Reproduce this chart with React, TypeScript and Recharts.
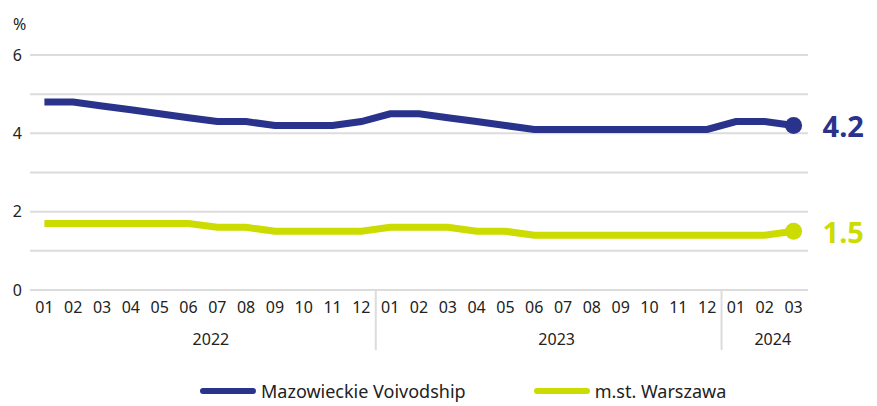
import React from 'react';
import { LineChart, Line, XAxis, YAxis, CartesianGrid } from 'recharts';

const periods = [
  '2022-01', '2022-02', '2022-03', '2022-04', '2022-05', '2022-06',
  '2022-07', '2022-08', '2022-09', '2022-10', '2022-11', '2022-12',
  '2023-01', '2023-02', '2023-03', '2023-04', '2023-05', '2023-06',
  '2023-07', '2023-08', '2023-09', '2023-10', '2023-11', '2023-12',
  '2024-01', '2024-02', '2024-03',
];

const mazowieckie = [
  4.8, 4.8, 4.7, 4.6, 4.5, 4.4, 4.3, 4.3, 4.2, 4.2, 4.2, 4.3,
  4.5, 4.5, 4.4, 4.3, 4.2, 4.1, 4.1, 4.1, 4.1, 4.1, 4.1, 4.1,
  4.3, 4.3, 4.2,
];

const warszawa = [
  1.7, 1.7, 1.7, 1.7, 1.7, 1.7, 1.6, 1.6, 1.5, 1.5, 1.5, 1.5,
  1.6, 1.6, 1.6, 1.5, 1.5, 1.4, 1.4, 1.4, 1.4, 1.4, 1.4, 1.4,
  1.4, 1.4, 1.5,
];

const yTicks = [0, 1, 2, 3, 4, 5, 6];

const series = [
  { key: 'maz', name: 'Mazowieckie Voivodship', color: '#29338c' },
  { key: 'waw', name: 'm.st. Warszawa', color: '#cddc00' },
];

const data = periods.map((p, i) => ({ period: p, maz: mazowieckie[i], waw: warszawa[i] }));
const last = periods.length - 1;
const TEXT = '#222222';
const GRID = '#dcdcdc';

// month label + year label + year separator
const MonthTick = (props: any) => {
  const { x, y, payload, index } = props;
  const [year, month] = String(payload.value).split('-');
  const half = payload.offset || 14.4;
  const count = periods.filter((p) => p.startsWith(year)).length;
  const isFirst = month === '01';
  return (
    <g>
      <text x={x} y={y + 15} textAnchor="middle" fontSize={16} fill={TEXT}>{month}</text>
      {isFirst && index > 0 && (
        <line x1={x - half} x2={x - half} y1={y - 8} y2={y + 52} stroke={GRID} strokeWidth={2} />
      )}
      {isFirst && (
        <text x={x + (count - 1) * half + 8} y={y + 47} textAnchor="middle" fontSize={16} fill={TEXT}>{year}</text>
      )}
    </g>
  );
};

const endDot = (color: string, key: string) => (p: any) => {
  if (p.index !== last) return <g key={`d-${key}-${p.index}`} />;
  return (
    <g key={`d-${key}-${p.index}`}>
      <circle cx={p.cx} cy={p.cy} r={8.5} fill={color} />
      <text x={p.cx + 29} y={p.cy} dominantBaseline="central" fontSize={29} fontWeight={700} fill={color}>
        {Number(p.payload[key]).toFixed(1)}
      </text>
    </g>
  );
};

export default function App() {
  return (
    <div style={{ position: 'absolute', left: 0, top: 0, width: 877, height: 406, overflow: 'hidden', fontFamily: '"Noto Sans", sans-serif', background: '#fff' }}>
      <LineChart width={877} height={406} data={data} margin={{ top: 55, right: 69, left: 0, bottom: 56 }}>
        <CartesianGrid vertical={false} stroke={GRID} strokeWidth={2} />
        <XAxis
          dataKey="period"
          scale="band"
          interval={0}
          height={60}
          axisLine={false}
          tickLine={false}
          tick={<MonthTick />}
        />
        <YAxis
          width={30}
          domain={[0, 6]}
          ticks={yTicks}
          axisLine={false}
          tickLine={false}
          tick={{ fontSize: 16, fill: TEXT }}
          tickFormatter={(v: number) => (v % 2 === 0 ? String(v) : '')}
          label={{
            content: (lp: any) => (
              <text x={lp.viewBox.x + 13} y={lp.viewBox.y - 25} fontSize={16} fill={TEXT}>%</text>
            ),
          }}
        />
        {series.map((s) => (
          <Line
            key={s.key}
            dataKey={s.key}
            name={s.name}
            stroke={s.color}
            strokeWidth={7}
            type="linear"
            dot={endDot(s.color, s.key)}
            activeDot={false}
            isAnimationActive={false}
          />
        ))}
      </LineChart>
      <div style={{ position: 'absolute', left: 200, top: 380, display: 'flex', gap: 68, alignItems: 'center' }}>
        {series.map((s) => (
          <div key={s.key} style={{ display: 'flex', alignItems: 'center', gap: 5 }}>
            <span style={{ width: 56, height: 6, borderRadius: 3, background: s.color, display: 'inline-block' }} />
            <span style={{ fontSize: 18, color: TEXT, lineHeight: '22px' }}>{s.name}</span>
          </div>
        ))}
      </div>
    </div>
  );
}
